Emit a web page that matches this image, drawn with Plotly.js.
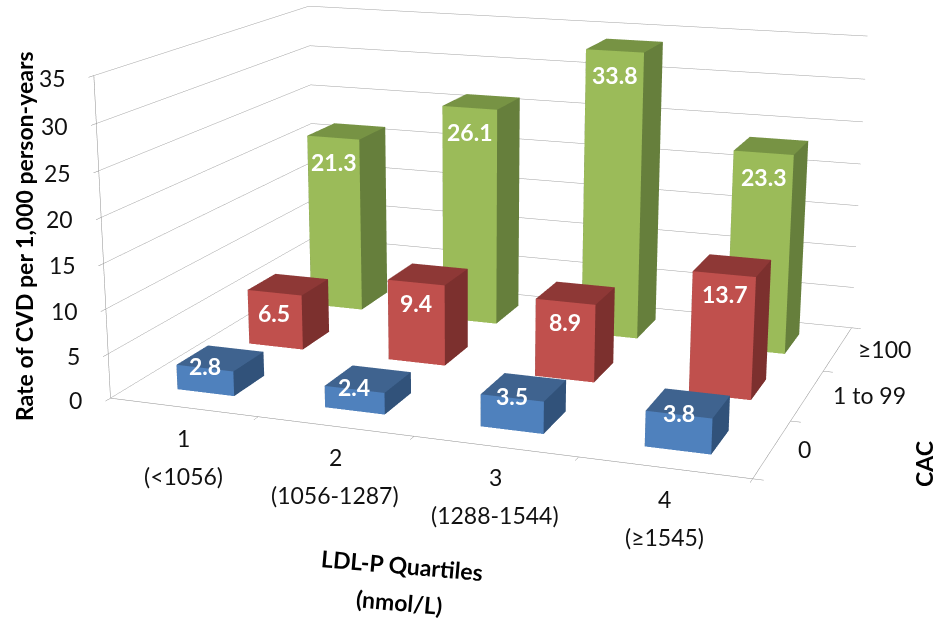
<!DOCTYPE html>
<html><head><meta charset="utf-8">
<script src="https://cdn.plot.ly/plotly-3.0.1.min.js"></script>
<style>html,body{margin:0;padding:0;background:#fff;overflow:hidden}
#wrap{position:absolute;left:0;top:0;width:938px;height:629px;overflow:hidden}
#chart{position:absolute;left:0}</style>
</head><body><div id="wrap"><div id="chart"></div></div>
<script>
// Event rates per 1,000 person-years by LDL-P quartile, one row per CAC group
var quartileNumbers = ['1', '2', '3', '4'];
var quartileRanges = ['(<1056)', '(1056-1287)', '(1288-1544)', '(≥1545)'];
var cacGroups = ['0', '1 to 99', '≥100'];
var rateCac0 = [2.8, 2.4, 3.5, 3.8];
var rateCac1to99 = [6.5, 9.4, 8.9, 13.7];
var rateCac100 = [21.3, 26.1, 33.8, 23.3];
var rateTicks = [0, 5, 10, 15, 20, 25, 30, 35];

var series = [rateCac0, rateCac1to99, rateCac100];
var frontColors = ['#4F81BD', '#C0504D', '#9BBB59'];
var topColors = ['#3F638F', '#8E3836', '#779344'];
var sideColors = ['#31527A', '#7C302E', '#667F3C'];
var labelLift = [2, -20, -24];
var barDepth = [0.21, 0.21, 0.23];
var cacLabelShift = [24, 24, 18];

// Taller canvas gives a narrow field of view; the wrapper crops it to the page
var pageH = 629, canvasH = 1727, cropTop = (canvasH - pageH) / 2;
document.getElementById('chart').style.top = (-cropTop) + 'px';
function paperY(py) { return 1 - (py + cropTop) / canvasH; }

var halfWidth = 0.195;
var traces = [];
var notes = [];
series.forEach(function (row, j) {
  row.forEach(function (v, i) {
    var x0 = i + 0.5 - halfWidth, x1 = i + 0.5 + halfWidth, y0 = j + 0.5 - barDepth[j], y1 = j + 0.5 + barDepth[j];
    var f = frontColors[j], s = sideColors[j], t = topColors[j];
    traces.push({
      type: 'mesh3d',
      x: [x0, x1, x1, x0, x0, x1, x1, x0], y: [y0, y0, y1, y1, y0, y0, y1, y1], z: [0, 0, 0, 0, v, v, v, v],
      i: [0, 0, 1, 1, 4, 4, 3, 3, 0, 0], j: [1, 5, 2, 6, 5, 6, 2, 6, 3, 7], k: [5, 4, 6, 5, 6, 7, 6, 7, 7, 4],
      facecolor: [f, f, s, s, t, t, s, s, s, s],
      flatshading: true,
      lighting: { ambient: 1, diffuse: 0, specular: 0, roughness: 1, fresnel: 0 },
      hoverinfo: 'skip', showscale: false
    });
    notes.push({ x: i + 0.5, y: y0, z: v, text: '<b>' + v.toFixed(1) + '</b>', showarrow: false, yshift: labelLift[j],
      font: { family: 'Lato', size: 23, color: '#fff' } });
  });
});

var tickFont = { family: 'Lato', size: 23, color: '#111' };
quartileNumbers.forEach(function (n, i) {
  notes.push({ x: i + 0.5, y: 0, z: 0, text: n, showarrow: false, yshift: -31, font: tickFont });
  notes.push({ x: i + 0.5, y: 0, z: 0, text: quartileRanges[i], showarrow: false, yshift: -69, font: tickFont });
});
cacGroups.forEach(function (g, j) {
  notes.push({ x: 4, y: j + 0.5, z: 0, text: g, showarrow: false, xanchor: 'left', xshift: cacLabelShift[j], font: tickFont });
});
rateTicks.forEach(function (t) {
  notes.push({ x: 0, y: 0, z: t, text: String(t), showarrow: false, xanchor: 'right', xshift: -26, yshift: -2, font: tickFont });
});

var axis = { showbackground: false, showspikes: false, zeroline: false, showline: true, linecolor: '#8c8c8c',
  ticks: 'outside', ticklen: 8, tickcolor: '#8c8c8c', showticklabels: false, showgrid: false, title: { text: '' } };
var titleFont = { family: 'Lato', size: 23, color: '#000' };
function pageNote(px, py, text, angle) {
  return { xref: 'paper', yref: 'paper', x: px / 938, y: paperY(py), xanchor: 'center', yanchor: 'middle',
    text: '<b>' + text + '</b>', textangle: angle, showarrow: false, font: titleFont };
}

var layout = {
  width: 938, height: canvasH, margin: { l: 0, r: 0, t: 0, b: 0 }, showlegend: false, paper_bgcolor: '#fff',
  annotations: [
    pageNote(24, 236, 'Rate of CVD per 1,000 person-years', -90),
    pageNote(924, 464, 'CAC', -90),
    pageNote(402, 565, 'LDL-P Quartiles', 5),
    pageNote(399, 602, '(nmol/L)', 5)
  ],
  scene: {
    domain: { x: [0, 1], y: [0, 1] },
    aspectmode: 'manual', aspectratio: { x: 4.329, y: 3.300, z: 2.158 },
    camera: { eye: { x: 4.573, y: -13.135, z: 3.377 }, center: { x: 0.141, y: -1.030, z: -0.438 }, up: { x: 0, y: 0, z: 1 } },
    xaxis: Object.assign({}, axis, { range: [0, 4], tickvals: [0, 1, 2, 3, 4] }),
    yaxis: Object.assign({}, axis, { range: [0, 3], tickvals: [0, 1, 2, 3] }),
    zaxis: Object.assign({}, axis, { range: [0, 35], tickvals: rateTicks, showgrid: true, gridcolor: '#a0a0a0' }),
    annotations: notes
  }
};
Plotly.newPlot('chart', traces, layout, { displayModeBar: false });
</script></body></html>
